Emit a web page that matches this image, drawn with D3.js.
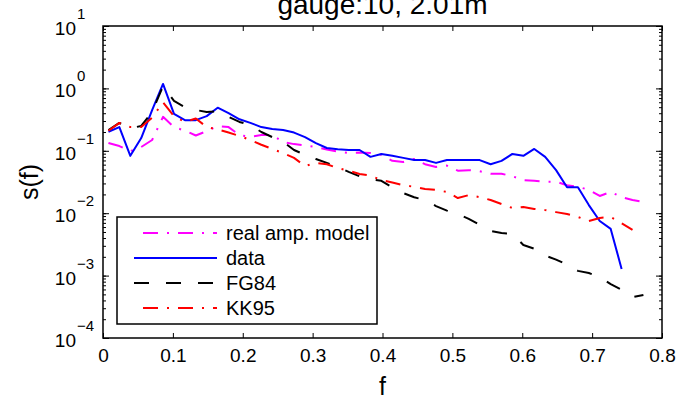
<!DOCTYPE html>
<meta charset="utf-8">
<head>
<title>gauge spectrum</title>
<script src="https://d3js.org/d3.v7.min.js"></script>
<style>
  body { margin: 0; background: #fff; }
  svg { font-family: "Liberation Sans", Arial, sans-serif; }
  .axis path { display: none; }
  .axis line { stroke: #000; stroke-width: 1px; }
  .line { fill: none; stroke-width: 2px; stroke-linejoin: round; }
</style>
</head>
<body>
<script>
// frequencies of the spectral estimates
var freq = [0.0078, 0.0234, 0.0391, 0.0547, 0.0703, 0.0859, 0.1016, 0.1172, 0.1328, 0.1484,
            0.1641, 0.1797, 0.1953, 0.2109, 0.2266, 0.2422, 0.2578, 0.2734, 0.2891, 0.3047,
            0.3203, 0.3359, 0.3516, 0.3672, 0.3828, 0.3984, 0.4141, 0.4297, 0.4453, 0.4609,
            0.4766, 0.4922, 0.5078, 0.5234, 0.5391, 0.5547, 0.5703, 0.5859, 0.6016, 0.6172,
            0.6328, 0.6484, 0.6641, 0.6797, 0.6953, 0.7109, 0.7266, 0.7422, 0.7578, 0.7734];

var realAmp = [0.133, 0.119, 0.099, 0.115, 0.149, 0.35, 0.24, 0.21, 0.176, 0.207,
               0.25, 0.24, 0.179, 0.167, 0.179, 0.179, 0.138, 0.128, 0.122, 0.115,
               0.105, 0.097, 0.092, 0.094, 0.092, 0.086, 0.069, 0.066, 0.074, 0.061,
               0.055, 0.058, 0.048, 0.049, 0.047, 0.043, 0.043, 0.039, 0.034, 0.033,
               0.032, 0.032, 0.028, 0.0265, 0.0237, 0.0189, 0.0219, 0.0181, 0.0163, 0.0152];

var measured = [0.202, 0.24, 0.083, 0.16, 0.45, 1.18, 0.39, 0.31, 0.31, 0.36,
                0.49, 0.40, 0.32, 0.28, 0.24, 0.223, 0.215, 0.196, 0.166, 0.133,
                0.111, 0.106, 0.103, 0.103, 0.080, 0.089, 0.083, 0.077, 0.071, 0.071,
                0.064, 0.071, 0.071, 0.071, 0.071, 0.061, 0.069, 0.089, 0.083, 0.107,
                0.080, 0.049, 0.026, 0.026, 0.0135, 0.0075, 0.0056, 0.00128];

var fg84 = [0.215, 0.28, 0.23, 0.25, 0.42, 1.09, 0.63, 0.5, 0.45, 0.42,
            0.43, 0.35, 0.29, 0.26, 0.2, 0.166, 0.14, 0.103, 0.086, 0.074,
            0.064, 0.055, 0.046, 0.039, 0.035, 0.033, 0.026, 0.021, 0.018, 0.0163,
            0.013, 0.011, 0.0097, 0.0081, 0.0065, 0.0052, 0.0048, 0.0047, 0.0031, 0.0027,
            0.0021, 0.0018, 0.0015, 0.00119, 0.0011, 0.00095, 0.00073, 0.00059, 0.00045, 0.00049];

var kk95 = [0.21, 0.28, 0.24, 0.24, 0.34, 0.6, 0.36, 0.29, 0.33, 0.24,
            0.22, 0.196, 0.173, 0.149, 0.125, 0.107, 0.092, 0.077, 0.057, 0.064,
            0.061, 0.053, 0.048, 0.0425, 0.040, 0.034, 0.031, 0.028, 0.0265, 0.0245,
            0.0236, 0.0219, 0.0175, 0.0195, 0.0181, 0.0163, 0.014, 0.0121, 0.0126, 0.0117,
            0.0112, 0.0104, 0.0097, 0.0087, 0.0075, 0.0084, 0.0087, 0.0069, 0.0054];

var xTicks = [0, 0.1, 0.2, 0.3, 0.4, 0.5, 0.6, 0.7, 0.8];
var xTickLabels = ["0", "0.1", "0.2", "0.3", "0.4", "0.5", "0.6", "0.7", "0.8"];
var yDecades = [1e-4, 1e-3, 1e-2, 1e-1, 1e0, 1e1];
var yExponents = ["\u22124", "\u22123", "\u22122", "\u22121", "0", "1"];

var legendNames = ["real amp. model", "data", "FG84", "KK95"];
var series = [realAmp, measured, fg84, kk95];
var colors = ["#ff00ff", "#0000ff", "#000000", "#ff0000"];
var dashes = ["15,9,2,9", null, "15,17", "15,9,2,9"];

// set the dimensions and margins of the graph
var margin = {top: 26, right: 15, bottom: 62, left: 103},
    width = 677 - margin.left - margin.right,
    height = 400 - margin.top - margin.bottom;

var x = d3.scaleLinear().domain([0, 0.8]).range([0, width]);
var y = d3.scaleLog().domain([1e-4, 10]).range([height, 0]);

var svg = d3.select("body").append("svg")
    .attr("width", 677)
    .attr("height", 400);

var g = svg.append("g")
    .attr("transform", "translate(" + margin.left + "," + margin.top + ")");

// title (clipped at the top like the original)
svg.append("text")
    .attr("x", margin.left + width / 2)
    .attr("y", 14)
    .attr("text-anchor", "middle")
    .style("font-size", "28px")
    .text("gauge:10, 2.01m");

// clip for the lines
g.append("clipPath").attr("id", "clip")
  .append("rect").attr("width", width).attr("height", height);

// lines
var line = d3.line()
    .x(function(d, i) { return x(freq[i]); })
    .y(function(d) { return y(d); });

series.forEach(function(s, k) {
  var p = g.append("path")
      .datum(s)
      .attr("class", "line")
      .attr("clip-path", "url(#clip)")
      .style("stroke", colors[k])
      .attr("d", line);
  if (dashes[k]) p.style("stroke-dasharray", dashes[k]);
});

// x axes (ticks inward, top and bottom)
g.append("g")
    .attr("class", "axis")
    .attr("transform", "translate(0," + height + ")")
    .call(d3.axisBottom(x).tickValues(xTicks).tickSize(-5).tickSizeOuter(0).tickPadding(11)
          .tickFormat(function(d, i) { return xTickLabels[i]; }))
    .selectAll("text")
    .style("font-size", "19px")
    .attr("fill", "#000");

g.append("g")
    .attr("class", "axis")
    .call(d3.axisTop(x).tickValues(xTicks).tickSize(-5).tickSizeOuter(0).tickFormat(""));

// y axes: minor then major ticks, both sides
var minor = y.ticks();
g.append("g").attr("class", "axis")
    .call(d3.axisLeft(y).tickValues(minor).tickSize(-3).tickSizeOuter(0).tickFormat(""));
g.append("g").attr("class", "axis")
    .call(d3.axisLeft(y).tickValues(yDecades).tickSize(-6).tickSizeOuter(0).tickFormat(""));
g.append("g").attr("class", "axis")
    .attr("transform", "translate(" + width + ",0)")
    .call(d3.axisRight(y).tickValues(minor).tickSize(-3).tickSizeOuter(0).tickFormat(""));
g.append("g").attr("class", "axis")
    .attr("transform", "translate(" + width + ",0)")
    .call(d3.axisRight(y).tickValues(yDecades).tickSize(-6).tickSizeOuter(0).tickFormat(""));

// y tick labels 10^n
var yl = g.append("g").selectAll("g")
    .data(yDecades).enter()
    .append("g")
    .attr("transform", function(d) { return "translate(0," + y(d) + ")"; });
yl.append("text")
    .attr("x", -27)
    .attr("y", 9)
    .attr("text-anchor", "end")
    .style("font-size", "19px")
    .text("10");
yl.append("text")
    .attr("x", -26)
    .attr("y", -7)
    .style("font-size", "15px")
    .text(function(d, i) { return yExponents[i]; });

// plot frame
g.append("rect")
    .attr("width", width)
    .attr("height", height)
    .attr("fill", "none")
    .attr("stroke", "#000")
    .attr("stroke-width", 1.5);

// axis labels
svg.append("text")
    .attr("x", margin.left + width / 2)
    .attr("y", 395)
    .attr("text-anchor", "middle")
    .style("font-size", "25px")
    .text("f");

svg.append("text")
    .attr("transform", "translate(38," + (margin.top + height / 2) + ") rotate(-90)")
    .attr("text-anchor", "middle")
    .style("font-size", "25px")
    .text("s(f)");

// legend
var legend = g.append("g").attr("transform", "translate(14,191)");
legend.append("rect")
    .attr("width", 260)
    .attr("height", 107)
    .attr("fill", "#fff")
    .attr("stroke", "#000")
    .attr("stroke-width", 1.5);

var rows = legend.selectAll(".row")
    .data(legendNames).enter()
    .append("g")
    .attr("class", "row")
    .attr("transform", function(d, i) { return "translate(0," + (16 + i * 25) + ")"; });

rows.append("line")
    .attr("x1", 17).attr("x2", 100)
    .attr("stroke", function(d, i) { return colors[i]; })
    .attr("stroke-width", 2)
    .style("stroke-dasharray", function(d, i) { return dashes[i] ? dashes[i] : null; })
    .style("stroke-dashoffset", function(d, i) { return dashes[i] === "15,9,2,9" ? 26 : 0; });

rows.append("text")
    .attr("x", 109)
    .attr("dy", "0.35em")
    .style("font-size", "20px")
    .text(function(d) { return d; });
</script>
</body>
